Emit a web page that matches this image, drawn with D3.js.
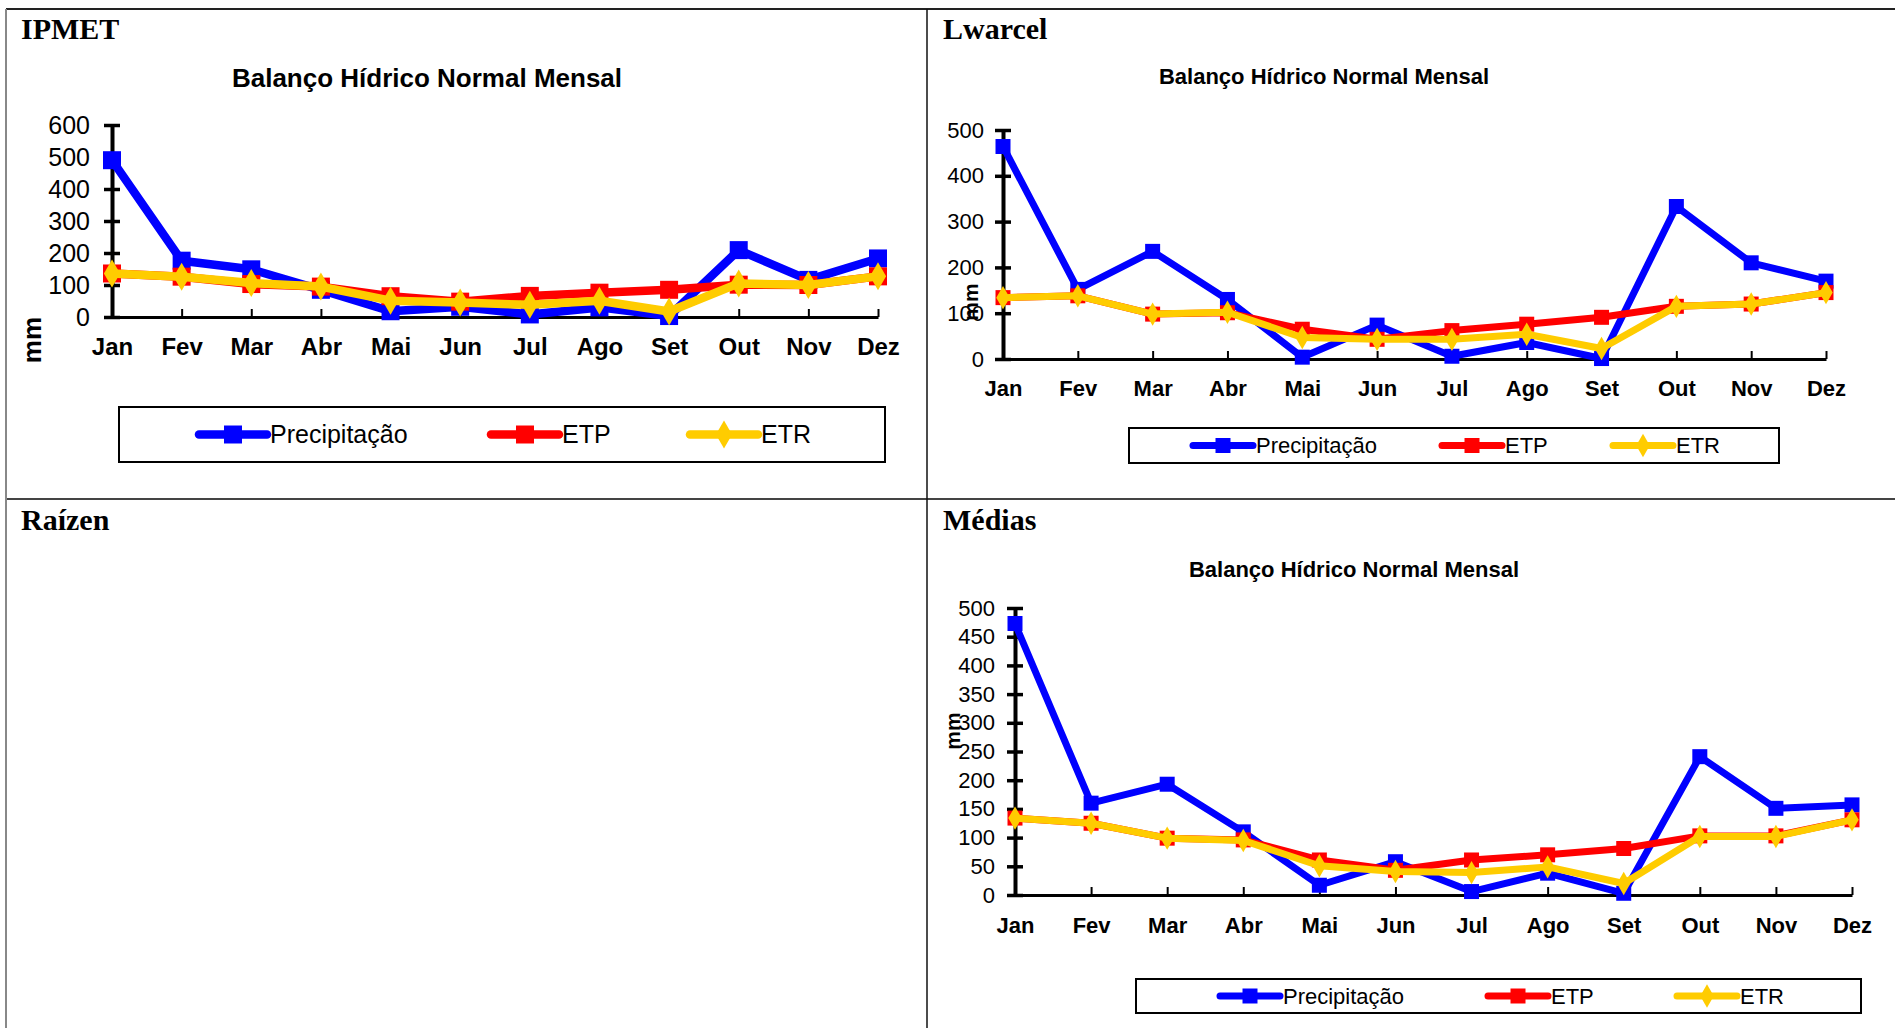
<!DOCTYPE html>
<html lang="pt">
<head>
  <meta charset="UTF-8">
  <title>Balanço Hídrico Normal Mensal</title>
  <script src="https://d3js.org/d3.v7.min.js"></script>
  <style>
    html, body { margin: 0; padding: 0; background: #fff; }
    svg { display: block; }
    .chart text { font-family: "Liberation Sans", Arial, sans-serif; fill: #000; }
    .cell-title { font-family: "Liberation Serif", "Times New Roman", serif; font-weight: bold; }
  </style>
</head>
<body>
  <script>

    // data
    var months = ["Jan", "Fev", "Mar", "Abr", "Mai", "Jun", "Jul", "Ago", "Set", "Out", "Nov", "Dez"];
    var seriesNames = ["Precipitação", "ETP", "ETR"];

    var ipmetPrecip = [490, 176, 149, 85, 18, 32, 8, 30, 3, 209, 116, 183];
    var ipmetEtp    = [136, 126, 103, 95, 65, 48, 66, 76, 85, 101, 100, 127];
    var ipmetEtr    = [136, 126, 106, 95, 51, 45, 38, 51, 17, 105, 100, 127];
    var ipmetTicks  = [0, 100, 200, 300, 400, 500, 600];

    var lwarcelPrecip = [464, 152, 235, 130, 4, 74, 6, 36, 1, 333, 210, 170];
    var lwarcelEtp    = [134, 138, 98, 101, 65, 43, 62, 76, 91, 115, 120, 145];
    var lwarcelEtr    = [134, 138, 98, 102, 47, 43, 43, 54, 23, 115, 120, 145];
    var lwarcelTicks  = [0, 100, 200, 300, 400, 500];

    var mediasPrecip = [473, 160, 193, 110, 17, 58, 6, 38, 3, 241, 151, 157];
    var mediasEtp    = [134, 125, 99, 96, 61, 43, 61, 70, 81, 103, 103, 131];
    var mediasEtr    = [134, 125, 99, 95, 51, 41, 39, 49, 20, 102, 102, 131];
    var mediasTicks  = [0, 50, 100, 150, 200, 250, 300, 350, 400, 450, 500];

    var colors = ["#0000ff", "#ff0000", "#ffcc00"];

    var W = 1895, H = 1028;

    var svg = d3.select("body")
      .append("svg")
        .attr("width", W)
        .attr("height", H);

    // table grid
    var grid = svg.append("g");
    grid.append("line").attr("x1", 6).attr("x2", W).attr("y1", 9).attr("y2", 9)
      .attr("stroke", "#222").attr("stroke-width", 2);
    grid.append("line").attr("x1", 6).attr("x2", W).attr("y1", 499).attr("y2", 499)
      .attr("stroke", "#444").attr("stroke-width", 2);
    grid.append("line").attr("x1", 6).attr("x2", 6).attr("y1", 9).attr("y2", H)
      .attr("stroke", "#888").attr("stroke-width", 2);
    grid.append("line").attr("x1", 927).attr("x2", 927).attr("y1", 9).attr("y2", H)
      .attr("stroke", "#111").attr("stroke-width", 1.5);

    var cellTitles = [
      { text: "IPMET", x: 21, y: 39 },
      { text: "Lwarcel", x: 943, y: 39 },
      { text: "Raízen", x: 21, y: 530 },
      { text: "Médias", x: 943, y: 530 }
    ];
    svg.selectAll(".cell-title")
      .data(cellTitles)
      .enter()
      .append("text")
        .attr("class", "cell-title")
        .attr("x", function(d) { return d.x; })
        .attr("y", function(d) { return d.y; })
        .attr("font-size", 30)
        .text(function(d) { return d.text; });

    // one line chart
    var drawChart = function(opt) {

      var g = svg.append("g").attr("class", "chart");

      var x = d3.scalePoint()
        .domain(months)
        .range([opt.x0, opt.x1]);

      var y = d3.scaleLinear()
        .domain([0, opt.yMax])
        .range([opt.yZero, opt.yTop]);

      // title
      g.append("text")
        .attr("x", opt.titleX)
        .attr("y", opt.titleY)
        .attr("text-anchor", "middle")
        .attr("font-weight", "bold")
        .attr("font-size", opt.titleSize)
        .text("Balanço Hídrico Normal Mensal");

      // x axis, ticks pointing up
      var xAxis = d3.axisBottom(x)
        .tickSize(-8)
        .tickSizeOuter(0)
        .tickPadding(opt.xLabelBase - opt.yZero - 0.71 * opt.xLabelSize);

      var gx = g.append("g")
        .attr("transform", "translate(0," + opt.yZero + ")")
        .call(xAxis);
      gx.select(".domain").attr("stroke", "#000").attr("stroke-width", 3);
      gx.selectAll(".tick line").attr("stroke", "#000").attr("stroke-width", 2);
      gx.selectAll(".tick text")
        .attr("font-size", opt.xLabelSize)
        .attr("font-weight", "bold")
        .attr("font-family", "'Liberation Sans', Arial, sans-serif");

      // y axis, crossing ticks
      var yAxis = d3.axisLeft(y)
        .tickValues(opt.ticks)
        .tickSize(0)
        .tickSizeOuter(0)
        .tickPadding(opt.yLabelGap);

      var gy = g.append("g")
        .attr("transform", "translate(" + opt.x0 + ",0)")
        .call(yAxis);
      gy.select(".domain").attr("stroke", "#000").attr("stroke-width", 4);
      gy.selectAll(".tick line")
        .attr("x1", -8).attr("x2", 8)
        .attr("stroke", "#000").attr("stroke-width", 3.5);
      gy.selectAll(".tick text")
        .attr("font-size", opt.yLabelSize)
        .attr("font-family", "'Liberation Sans', Arial, sans-serif");

      // y label
      g.append("text")
        .attr("transform", "translate(" + opt.mmX + "," + opt.mmY + ") rotate(-90)")
        .attr("text-anchor", "middle")
        .attr("dy", "0.35em")
        .attr("font-weight", "bold")
        .attr("font-size", opt.mmSize)
        .text("mm");

      // series
      var line = d3.line()
        .x(function(d, i) { return x(months[i]); })
        .y(function(d) { return y(d); });

      var square = d3.symbol().type(d3.symbolSquare).size(opt.markSize * opt.markSize);
      var diamond = d3.symbol().type(d3.symbolDiamond).size(opt.markSize * opt.markSize * 0.7);

      opt.series.forEach(function(values, s) {
        g.append("path")
          .datum(values)
          .attr("fill", "none")
          .attr("stroke", colors[s])
          .attr("stroke-width", opt.lineWidth)
          .attr("stroke-linejoin", "round")
          .attr("d", line);

        g.selectAll(".mark" + s)
          .data(values)
          .enter()
          .append("path")
            .attr("class", "mark" + s)
            .attr("transform", function(d, i) {
              return "translate(" + x(months[i]) + "," + y(d) + ")";
            })
            .attr("fill", colors[s])
            .attr("d", s === 2 ? diamond : square);
      });

      // legend
      var lg = g.append("g");
      lg.append("rect")
        .attr("x", opt.legend.x)
        .attr("y", opt.legend.y)
        .attr("width", opt.legend.w)
        .attr("height", opt.legend.h)
        .attr("fill", "none")
        .attr("stroke", "#000")
        .attr("stroke-width", 2);

      var cy = opt.legend.y + opt.legend.h / 2;
      seriesNames.forEach(function(name, s) {
        var lx = opt.legend.items[s];
        lg.append("line")
          .attr("x1", lx).attr("x2", lx + opt.legend.sample)
          .attr("y1", cy).attr("y2", cy)
          .attr("stroke", colors[s])
          .attr("stroke-width", opt.lineWidth)
          .attr("stroke-linecap", "round");
        lg.append("path")
          .attr("transform", "translate(" + (lx + opt.legend.sample / 2) + "," + cy + ")")
          .attr("fill", colors[s])
          .attr("d", s === 2 ? diamond : square);
        lg.append("text")
          .attr("x", lx + opt.legend.sample + 3)
          .attr("y", cy)
          .attr("dy", "0.35em")
          .attr("font-size", opt.legend.size)
          .text(name);
      });
    };

    drawChart({
      series: [ipmetPrecip, ipmetEtp, ipmetEtr],
      ticks: ipmetTicks, yMax: 600,
      x0: 112, x1: 878, yTop: 125, yZero: 317,
      titleX: 427, titleY: 87, titleSize: 26,
      xLabelBase: 355, xLabelSize: 24,
      yLabelGap: 22, yLabelSize: 25,
      mmX: 32, mmY: 340, mmSize: 26,
      lineWidth: 8.5, markSize: 18,
      legend: { x: 119, y: 407, w: 766, h: 55, items: [199, 491, 690], sample: 68, size: 25 }
    });

    drawChart({
      series: [lwarcelPrecip, lwarcelEtp, lwarcelEtr],
      ticks: lwarcelTicks, yMax: 500,
      x0: 1003, x1: 1826, yTop: 130, yZero: 359,
      titleX: 1324, titleY: 84, titleSize: 22,
      xLabelBase: 396, xLabelSize: 22,
      yLabelGap: 19, yLabelSize: 22,
      mmX: 971, mmY: 302, mmSize: 21,
      lineWidth: 7, markSize: 15,
      legend: { x: 1129, y: 428, w: 650, h: 35, items: [1193, 1442, 1613], sample: 60, size: 22 }
    });

    drawChart({
      series: [mediasPrecip, mediasEtp, mediasEtr],
      ticks: mediasTicks, yMax: 500,
      x0: 1015, x1: 1852, yTop: 608, yZero: 895,
      titleX: 1354, titleY: 577, titleSize: 22,
      xLabelBase: 933, xLabelSize: 22,
      yLabelGap: 20, yLabelSize: 22,
      mmX: 953, mmY: 731, mmSize: 21,
      lineWidth: 7, markSize: 15,
      legend: { x: 1136, y: 979, w: 725, h: 34, items: [1220, 1488, 1677], sample: 60, size: 22 }
    });

  </script>
</body>
</html>
